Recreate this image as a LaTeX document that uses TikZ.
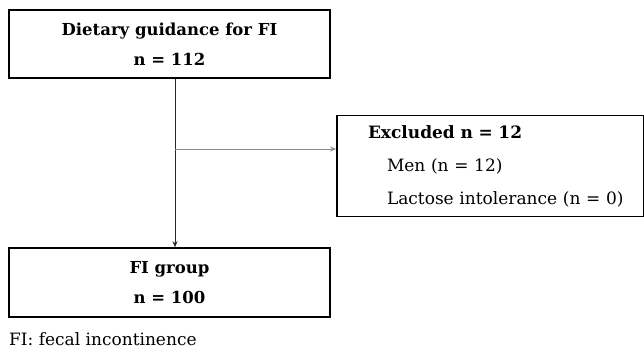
\documentclass[tikz,border=0pt]{standalone}
\usepackage{fontspec}
\setmainfont{DejaVu Serif}
\usetikzlibrary{positioning,arrows.meta}

\begin{document}
\begin{tikzpicture}[x=1pt,y=-1pt,
  box/.style={draw=black,line width=1.6pt,align=center,inner sep=0pt,minimum width=321pt,minimum height=68pt,font=\fontsize{16.5}{30}\selectfont\bfseries},
  exbox/.style={draw=black,line width=1.6pt,align=left,inner sep=0pt,text width=285pt,minimum width=307pt,minimum height=101pt,font=\fontsize{17}{33}\selectfont},
  link/.style={draw=black!85,line width=0.8pt},
  >={Stealth[length=6pt,width=5pt]}]
\useasboundingbox (0,0) rectangle (644,356);
\node[box] (top) at (169.5,44) {Dietary guidance for FI\\n = 112};
\node[box,minimum height=69pt] (fi) at (169.5,282.5) {FI group\\n = 100};
\node[exbox] (ex) at (490.5,166) {\hspace*{20pt}\textbf{Excluded n = 12}\\\hspace*{39pt}Men (n = 12)\\\hspace*{39pt}Lactose intolerance (n = 0)};
\node[anchor=base west,inner sep=0pt,font=\fontsize{17}{20}\selectfont] (note) at (9,345) {FI: fecal incontinence};
\coordinate (j) at (175,149);
\draw[link,->] (top.south -| j) -- (fi.north -| j);
\draw[link,->,draw=black!45] (j) -- (ex.west |- j);
\end{tikzpicture}
\end{document}
